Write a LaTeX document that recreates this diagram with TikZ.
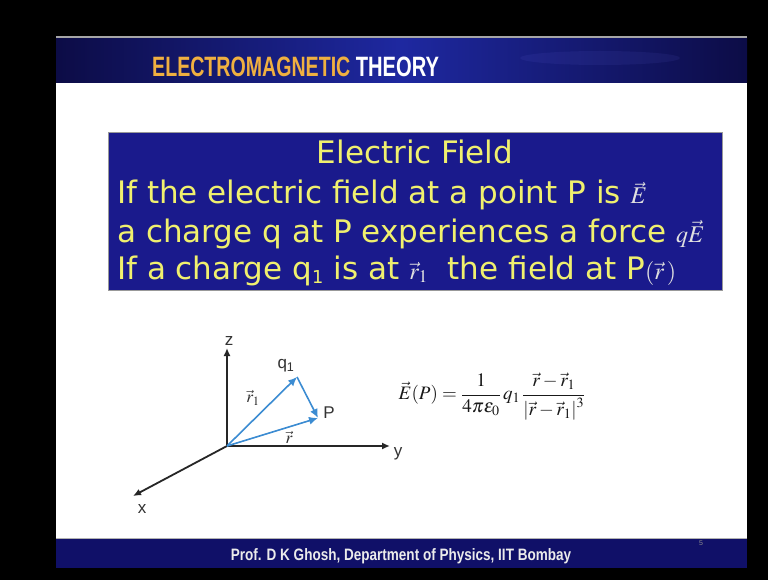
\documentclass[tikz,border=0pt]{standalone}
\usepackage{amsmath}
\usepackage{mathptmx}
\usepackage[no-math]{fontspec}
\usepackage{graphicx}
\setmainfont{DejaVu Sans}
\newfontfamily\arialfont{Liberation Sans}
\usetikzlibrary{arrows.meta,positioning}

\definecolor{boxblue}{RGB}{26,26,140}
\definecolor{boxyellow}{RGB}{240,240,110}
\definecolor{navy}{RGB}{12,12,70}
\definecolor{headblue}{RGB}{30,40,160}
\definecolor{footblue}{RGB}{16,16,104}
\definecolor{vecblue}{RGB}{60,140,210}
\definecolor{titleorange}{RGB}{240,176,64}

\newcommand{\boxmath}[1]{{\fontsize{24}{26}\selectfont\color{black!12}$#1$}}

\begin{document}
\begin{tikzpicture}[x=1pt,y=-1pt,>=Latex,
  boxtext/.style={text=boxyellow,inner sep=0pt,font=\fontsize{31}{33}\selectfont},
  head/.style={inner sep=0pt,font=\fontsize{28}{30}\selectfont\bfseries\arialfont},
  lbl/.style={inner sep=1pt,text=black!80,font=\fontsize{17}{19}\selectfont\arialfont},
  axis/.style={line width=1.8pt,draw=black!85,-{Latex[length=8pt,width=7pt]}},
  vec/.style={line width=1.6pt,draw=vecblue,-{Latex[length=9pt,width=8pt]}}]
\useasboundingbox (0,0) rectangle (768,580);
\fill[black] (0,0) rectangle (768,580);
\fill[white] (56,83) rectangle (747,538);
\shade[left color=navy,right color=navy,middle color=headblue] (56,38) rectangle (747,83);
\fill[blue!50!white,opacity=0.08] (600,58) ellipse (80 and 7);
\draw[black!35,line width=2pt] (56,37) -- (747,37);
\node[head,anchor=base west,text=titleorange] (em) at (152,77)
  {\scalebox{0.7}[1]{ELECTROMAGNETIC}};
\node[head,text=white,right=5pt of em.base east,anchor=base west] (th)
  {\scalebox{0.72}[1]{THEORY}};
\node[draw=black!40,fill=boxblue,minimum width=614pt,minimum height=158pt,
  anchor=north west] (box) at (108,132) {};
\node[boxtext,anchor=base] (ef) at (415,164) {Electric Field};
\node[boxtext,anchor=base west] (l1) at (117,204)
  {If the electric field at a point P is \boxmath{\vec E}};
\node[boxtext,anchor=base west] (l2) at (117,242)
  {a charge q at P experiences a force \boxmath{q\vec E}};
\node[boxtext,anchor=base west] (l3) at (117,279)
  {If a charge q{\fontsize{24}{26}\selectfont\textsubscript{1}} is at \boxmath{\vec r_1}\ \ the field at P\boxmath{(\vec r\,)}};
\coordinate (O) at (227,446);
\coordinate (zend) at (227,348);
\coordinate (yend) at (390,446);
\coordinate (xend) at (133,496);
\coordinate (q1) at (297,377);
\coordinate (P) at (318,418);
\draw[axis] (O) -- (zend);
\draw[axis] (O) -- (yend);
\draw[axis] (O) -- (xend);
\draw[vec] (O) -- (q1);
\draw[vec] (O) -- (P);
\draw[vec] (q1) -- (P);
\node[lbl] (zl) at (229,341) {z};
\node[lbl] (yl) at (398,454) {y};
\node[lbl] (xl) at (142,509) {x};
\node[lbl] (ql) at (286,366) {q\textsubscript{1}};
\node[lbl] (pl) at (329,413) {P};
\node[lbl] (r1l) at (253,398) {$\vec r_1$};
\node[lbl] (rl) at (289,437) {$\vec r$};
\node[text=black!90,font=\fontsize{19}{21}\selectfont] (eq) at (492,397)
  {$\vec E(P)=\dfrac{1}{4\pi\varepsilon_0}\,q_1\,\dfrac{\vec r-\vec r_1}{\left|\vec r-\vec r_1\right|^3}$};
\fill[footblue] (56,538) rectangle (747,568);
\draw[black!30] (56,538) -- (747,538);
\node[anchor=base,text=black!8,font=\fontsize{16.5}{18}\selectfont\bfseries\arialfont]
  (foot) at (401,560)
  {\scalebox{0.82}[1]{Prof. D K Ghosh, Department of Physics, IIT Bombay}};
\node[text=black!45,font=\fontsize{7}{8}\selectfont\arialfont] (pg) at (701,543) {5};
\end{tikzpicture}
\end{document}
